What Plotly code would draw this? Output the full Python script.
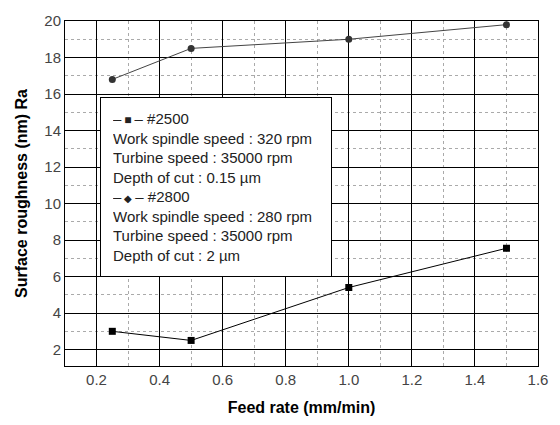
import plotly.graph_objects as go

feed = [0.25, 0.5, 1.0, 1.5]
ra_2500 = [3.0, 2.5, 5.4, 7.55]
ra_2800 = [16.8, 18.5, 19.0, 19.8]
legend_2500 = ["–\u2009<span style='font-size:12px'>■</span>\u2009– #2500", "Work spindle speed : 320 rpm", "Turbine speed : 35000 rpm", "Depth of cut : 0.15 µm"]
legend_2800 = ["–\u2009<span style='font-size:10px'>◆</span>\u2009– #2800", "Work spindle speed : 280 rpm", "Turbine speed : 35000 rpm", "Depth of cut : 2 µm"]

fig = go.Figure()
fig.add_trace(go.Scatter(x=feed, y=ra_2500, name="#2500", mode="lines+markers",
                         line=dict(color="black", width=1),
                         marker=dict(symbol="square", size=7, color="black"),
                         showlegend=False))
fig.add_trace(go.Scatter(x=feed, y=ra_2800, name="#2800", mode="lines+markers",
                         line=dict(color="#444", width=1),
                         marker=dict(symbol="circle", size=7, color="#333"),
                         showlegend=False))

tickfont = dict(family="Liberation Sans", size=15, color="#444")
axis_common = dict(showline=True, linecolor="black", linewidth=1, mirror=True,
                   showgrid=True, gridcolor="black", gridwidth=1, zeroline=False,
                   ticks="", tickfont=tickfont)
titlefont = dict(family="Liberation Sans", size=16, color="black")

fig.update_xaxes(range=[0.1, 1.6], tick0=0.2, dtick=0.2, tickformat=".1f",
                 title=dict(text="<b>Feed rate (mm/min)</b>", font=titlefont, standoff=14),
                 minor=dict(showgrid=True, gridcolor="#aaa", griddash="dot", gridwidth=1, dtick=0.1, tick0=0.1),
                 **axis_common)
fig.update_yaxes(range=[1.1, 20], tick0=2, dtick=2,
                 title=dict(text="<b>Surface roughness (nm) Ra</b>", font=titlefont, standoff=12),
                 minor=dict(showgrid=True, gridcolor="#aaa", griddash="dot", gridwidth=1, dtick=1, tick0=1),
                 **axis_common)

fig.add_annotation(xref="paper", yref="paper", x=0.074, y=0.779, xanchor="left", yanchor="top",
                   text="<br>".join(legend_2500 + legend_2800), align="left", showarrow=False,
                   width=206,
                   font=dict(family="Liberation Sans", size=15, color="#222"),
                   bgcolor="white", bordercolor="black", borderwidth=1, borderpad=12)

fig.update_layout(
    width=560, height=425,
    margin=dict(l=65, r=22, t=17, b=55),
    paper_bgcolor="white", plot_bgcolor="white",
    font=dict(family="Liberation Sans", color="black"),
    showlegend=False,
)
fig.write_html("out.html")
